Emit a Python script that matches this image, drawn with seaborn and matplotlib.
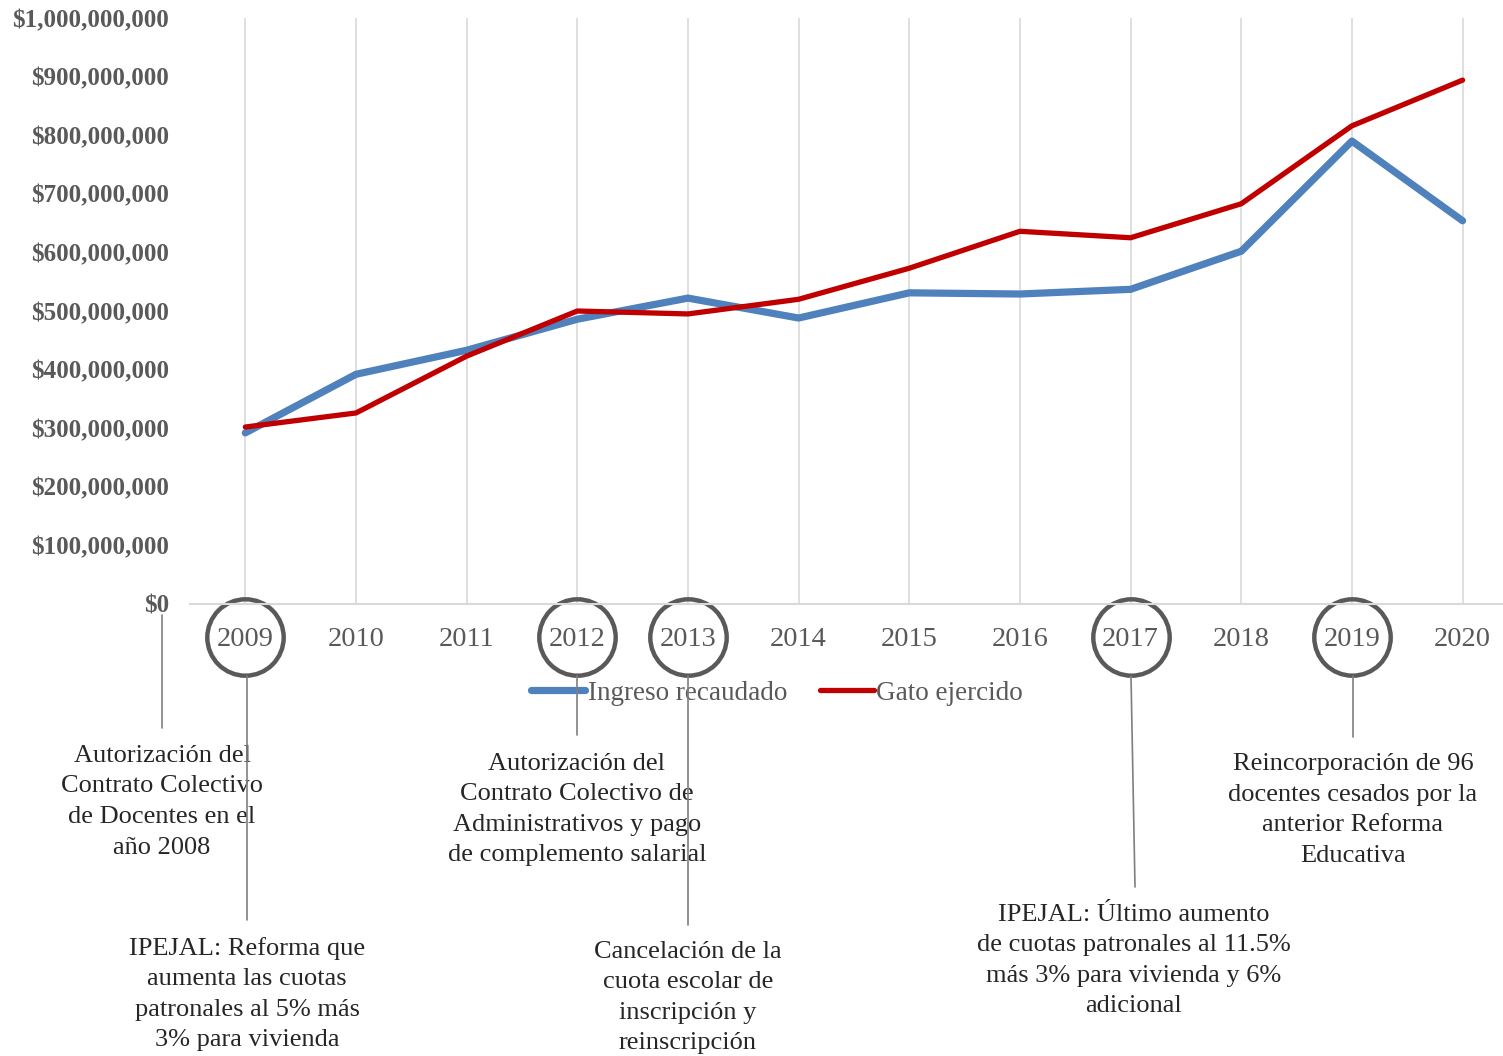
import pandas as pd
import matplotlib.pyplot as plt
import seaborn as sns
from matplotlib.lines import Line2D
from matplotlib.ticker import FuncFormatter
import matplotlib.transforms as mtransforms

# data
years = [2009, 2010, 2011, 2012, 2013, 2014, 2015, 2016, 2017, 2018, 2019, 2020]
ingreso = [292e6, 392e6, 433e6, 486e6, 522e6, 488e6, 531e6, 529e6, 537e6, 602e6, 790e6, 654e6]
gasto = [302e6, 326e6, 423e6, 500e6, 495e6, 520e6, 573e6, 636e6, 625e6, 683e6, 816e6, 894e6]
series_names = ["Ingreso recaudado", "Gato ejercido"]
circled_years = [2009, 2012, 2013, 2017, 2019]

notes = [
    "Autorización del\nContrato Colectivo\nde Docentes en el\naño 2008",
    "IPEJAL: Reforma que\naumenta las cuotas\npatronales al 5% más\n3% para vivienda",
    "Autorización del\nContrato Colectivo de\nAdministrativos y pago\nde complemento salarial",
    "Cancelación de la\ncuota escolar de\ninscripción y\nreinscripción",
    "IPEJAL: Último aumento\nde cuotas patronales al 11.5%\nmás 3% para vivienda y 6%\nadicional",
    "Reincorporación de 96\ndocentes cesados por la\nanterior Reforma\nEducativa",
]

df = pd.DataFrame({
    "Año": years * 2,
    "Monto": ingreso + gasto,
    "Serie": [series_names[0]] * len(years) + [series_names[1]] * len(years),
})
df["pos"] = df["Año"].map({y: i for i, y in enumerate(years)})

sns.set_style("white")
plt.rcParams["font.family"] = ["Liberation Serif", "DejaVu Serif"]

W, H = 1503, 1056
fig = plt.figure(figsize=(W / 100, H / 100), dpi=100)
ax = fig.add_axes([190 / W, 1 - 604 / H, (W - 190) / W, (604 - 18) / H])

palette = {series_names[0]: "#4f81bd", series_names[1]: "#c00000"}
sns.lineplot(data=df, x="pos", y="Monto", hue="Serie", palette=palette,
             ax=ax, legend=False, sort=False)
ax.lines[0].set_linewidth(5.2)
ax.lines[1].set_linewidth(3.8)
for ln in ax.lines:
    ln.set_solid_capstyle("round")
    ln.set_solid_joinstyle("round")

ax.set_xlim(-0.5, (W - 246) / 110.6)
ax.set_ylim(0, 1e9)
ax.set_xticks(range(len(years)))
ax.set_xticklabels([str(y) for y in years])
ax.set_yticks([i * 1e8 for i in range(11)])
ax.yaxis.set_major_formatter(FuncFormatter(lambda v, p: f"${v:,.0f}"))
ax.set_xlabel("")
ax.set_ylabel("")

ax.tick_params(axis="x", length=0, pad=16.5, labelsize=20.5, labelcolor="#595959")
ax.tick_params(axis="y", length=0, pad=15, labelsize=18, labelcolor="#595959")
for lab in ax.get_yticklabels():
    lab.set_fontweight("bold")

ax.grid(axis="x", color="#d9d9d9", linewidth=1.2)
ax.grid(axis="y", visible=False)
for side in ["top", "right", "left"]:
    ax.spines[side].set_visible(False)
ax.spines["bottom"].set_color("#d9d9d9")
ax.spines["bottom"].set_linewidth(1.5)

# circles around highlighted year labels
trans = mtransforms.blended_transform_factory(ax.transData, ax.transAxes)
for y in circled_years:
    ax.plot(years.index(y), -0.0563, marker="o", markersize=55, markerfacecolor="none",
            markeredgecolor="#595959", markeredgewidth=3.2, transform=trans, clip_on=False)

# legend
handles = [Line2D([], [], color="#4f81bd", lw=5.2, solid_capstyle="round"),
           Line2D([], [], color="#c00000", lw=3.8, solid_capstyle="round")]
leg = fig.legend(handles, series_names, loc="center", bbox_to_anchor=(777 / W, 1 - 693 / H),
                 ncol=2, frameon=False, fontsize=19.5, handlelength=2.0, handletextpad=0.1,
                 columnspacing=1.2, labelcolor="#595959")

# annotation connectors and texts (pixel positions)
connectors = [((162, 615), (162, 728)), ((247, 676), (247, 920)), ((577, 676), (577, 735)),
              ((688, 676), (688, 925)), ((1131, 676), (1135, 887)), ((1353, 676), (1353, 737))]
text_pos = [(162, 745), (247, 937), (577, 753), (688, 941), (1134, 904), (1353, 753)]

for (p0, p1) in connectors:
    fig.add_artist(Line2D([p0[0] / W, p1[0] / W], [1 - p0[1] / H, 1 - p1[1] / H],
                          color="#7f7f7f", lw=1.2, zorder=10))
for (x, y), t in zip(text_pos, notes):
    fig.text(x / W, 1 - y / H, t, ha="center", va="top", fontsize=19,
             color="#262626", linespacing=1.5, multialignment="center")

fig.savefig("out.png", dpi=100)
plt.close("all")
